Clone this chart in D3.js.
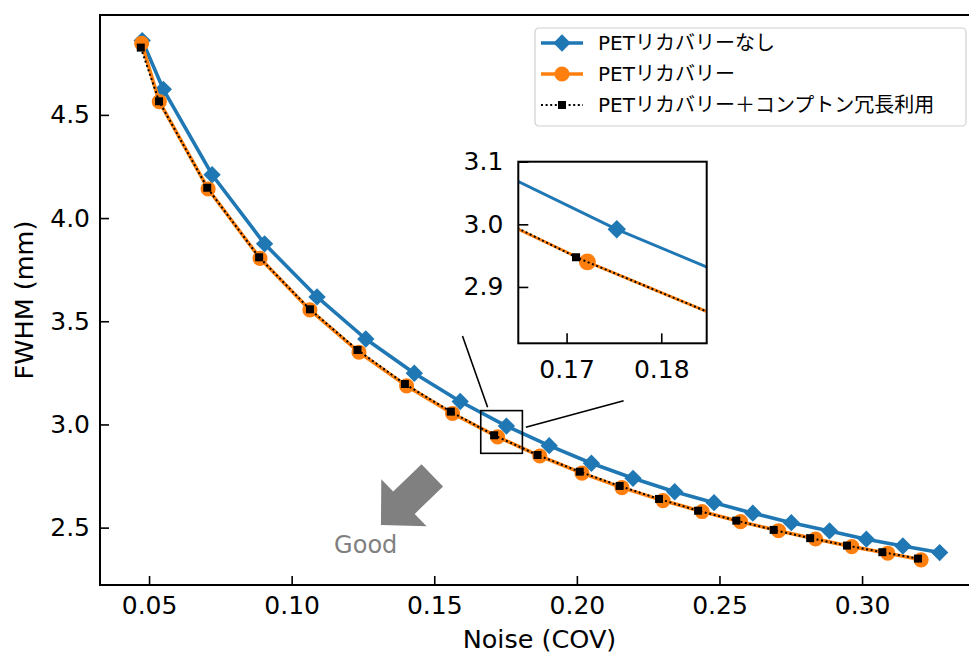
<!DOCTYPE html>
<html>
<head>
<meta charset="utf-8">
<script src="https://cdn.jsdelivr.net/npm/d3@7"></script>
<style>
  body { margin: 0; background: #fff; }
  svg { display: block; font-family: "DejaVu Sans", "Noto Sans CJK JP", sans-serif; }
  .axis path { display: none; }
  .axis line { stroke: #000; stroke-width: 1.6; }
  .axis text { font-size: 25px; fill: #000; font-family: "DejaVu Sans", sans-serif; }
  .axis-title { font-size: 25.5px; fill: #000; }
</style>
</head>
<body>
<svg id="chart" width="969" height="653"></svg>
<script>
const width = 969;
const height = 653;

const margin = { top: 15, bottom: 68, left: 100, right: -10 };

/* DATA */
const seriesNames = ["PETリカバリーなし", "PETリカバリー", "PETリカバリー＋コンプトン冗長利用"];

const noRecoveryX = [0.0476, 0.0550, 0.0721, 0.0905, 0.1089, 0.1260, 0.1430, 0.1591, 0.1753, 0.1903,
                     0.2051, 0.2197, 0.2343, 0.2481, 0.2617, 0.2752, 0.2886, 0.3015, 0.3143, 0.3272];
const noRecoveryY = [4.860, 4.624, 4.210, 3.875, 3.618, 3.414, 3.248, 3.111, 2.992, 2.897,
                     2.812, 2.739, 2.674, 2.621, 2.570, 2.524, 2.484, 2.444, 2.411, 2.379];

const recoveryX = [0.0474, 0.0536, 0.0707, 0.0889, 0.1064, 0.1236, 0.1403, 0.1564, 0.1722, 0.1870,
                   0.2018, 0.2158, 0.2302, 0.2439, 0.2574, 0.2707, 0.2837, 0.2964, 0.3090, 0.3207];
const recoveryY = [4.847, 4.564, 4.141, 3.805, 3.555, 3.350, 3.187, 3.053, 2.940, 2.847,
                   2.764, 2.694, 2.631, 2.578, 2.529, 2.485, 2.445, 2.408, 2.376, 2.344];

const comptonX = [0.0471, 0.0535, 0.0704, 0.0886, 0.1064, 0.1231, 0.1397, 0.1558, 0.1710, 0.1862,
                  0.2010, 0.2150, 0.2288, 0.2425, 0.2559, 0.2690, 0.2818, 0.2947, 0.3071, 0.3196];
const comptonY = [4.826, 4.566, 4.147, 3.810, 3.558, 3.361, 3.196, 3.062, 2.9475, 2.852,
                  2.771, 2.702, 2.639, 2.582, 2.534, 2.489, 2.449, 2.413, 2.381, 2.350];

const xTicks = [0.05, 0.10, 0.15, 0.20, 0.25, 0.30];
const yTicks = [2.5, 3.0, 3.5, 4.0, 4.5];
const insetXTicks = [0.17, 0.18];
const insetYTicks = [2.9, 3.0, 3.1];

// zoomed region [x0, x1, y0, y1] and the two pointer lines, in data units
const zoomBox = [0.1663, 0.1809, 2.860, 3.067];
const pointerLines = [
  [[0.1599, 3.429], [0.1687, 3.083]],
  [[0.1821, 2.986], [0.2164, 3.115]]
];
const goodArrow = { from: [0.1493, 2.753], to: [0.1313, 2.513], label: "Good" };

/* SERIES STYLE */
const series = [
  { name: seriesNames[0], xs: noRecoveryX, ys: noRecoveryY, color: "#1f77b4", lw: 3.6, dash: null, shape: "diamond", size: 150, insetSize: 170 },
  { name: seriesNames[1], xs: recoveryX, ys: recoveryY, color: "#ff7f0e", lw: 3.6, dash: null, shape: "circle", size: 180, insetSize: 225 },
  { name: seriesNames[2], xs: comptonX, ys: comptonY, color: "#000000", lw: 2, dash: "2,2.6", shape: "square", size: 64, insetSize: 66 }
];

/* PLOT */
const svg = d3.select("svg#chart");
const plot = svg.append("g").attr("id", "plot")
  .attr("transform", translate(margin.left, margin.top));

const plotWidth = width - margin.left - margin.right;
const plotHeight = height - margin.top - margin.bottom;

const scales = {
  x: d3.scaleLinear().domain([0.0328, 0.341]).range([0, plotWidth]),
  y: d3.scaleLinear().domain([2.222, 4.984]).range([plotHeight, 0])
};

drawAxes();
drawSeries(plot, scales, false);
drawZoomBox();
drawInset();
drawArrow();
drawLegend();
drawTitles();


/* AXES */
function drawAxes() {
  const xAxis = d3.axisBottom(scales.x).tickValues(xTicks).tickFormat(d3.format(".2f"))
    .tickSizeInner(-9).tickSizeOuter(0).tickPadding(11);
  const yAxis = d3.axisLeft(scales.y).tickValues(yTicks).tickFormat(d3.format(".1f"))
    .tickSizeInner(-9).tickSizeOuter(0).tickPadding(10);

  plot.append("g").attr("class", "axis")
    .attr("transform", translate(0, plotHeight))
    .call(xAxis);
  plot.append("g").attr("class", "axis").call(yAxis);

  plot.append("rect")
    .attr("width", plotWidth).attr("height", plotHeight)
    .attr("fill", "none").attr("stroke", "#000").attr("stroke-width", 2);
}


/* LINES + MARKERS */
function symbolPath(shape, size) {
  if (shape === "circle") return d3.symbol(d3.symbolCircle, size)();
  return d3.symbol(d3.symbolSquare, size)();
}

function drawSeries(group, sc, isInset) {
  series.forEach(s => {
    const pts = s.xs.map((x, i) => [x, s.ys[i]]);
    const line = d3.line().x(d => sc.x(d[0])).y(d => sc.y(d[1]));

    const g = group.append("g");
    g.append("path")
      .attr("d", line(pts))
      .attr("fill", "none")
      .attr("stroke", s.color)
      .attr("stroke-width", isInset && !s.dash ? s.lw * 0.8 : s.lw)
      .attr("stroke-dasharray", s.dash)
      .attr("stroke-linejoin", "round");

    g.selectAll("path.marker")
      .data(pts)
      .enter()
      .append("path")
      .attr("class", "marker")
      .attr("d", symbolPath(s.shape, isInset ? s.insetSize : s.size))
      .attr("fill", s.color)
      .attr("transform", d => translate(sc.x(d[0]), sc.y(d[1])) + (s.shape === "diamond" ? " rotate(45)" : ""));
  });
}


/* ZOOM BOX + POINTERS */
function drawZoomBox() {
  const x0 = scales.x(zoomBox[0]), x1 = scales.x(zoomBox[1]);
  const y0 = scales.y(zoomBox[3]), y1 = scales.y(zoomBox[2]);

  plot.append("rect")
    .attr("x", x0).attr("y", y0)
    .attr("width", x1 - x0).attr("height", y1 - y0)
    .attr("fill", "none").attr("stroke", "#000").attr("stroke-width", 1.6);

  plot.selectAll("line.pointer")
    .data(pointerLines)
    .enter()
    .append("line")
    .attr("class", "pointer")
    .attr("x1", d => scales.x(d[0][0])).attr("y1", d => scales.y(d[0][1]))
    .attr("x2", d => scales.x(d[1][0])).attr("y2", d => scales.y(d[1][1]))
    .attr("stroke", "#000").attr("stroke-width", 1.6);
}


/* INSET */
function drawInset() {
  const box = { left: 518.3, top: 161.7, width: 188.4, height: 181.6 };
  const inset = svg.append("g").attr("id", "inset")
    .attr("transform", translate(box.left, box.top));

  const insetScales = {
    x: d3.scaleLinear().domain([0.1649, 0.1848]).range([0, box.width]),
    y: d3.scaleLinear().domain([2.81, 3.10]).range([box.height, 0])
  };

  inset.append("rect")
    .attr("width", box.width).attr("height", box.height)
    .attr("fill", "#fff");

  svg.append("defs").append("clipPath").attr("id", "inset-clip")
    .append("rect").attr("width", box.width).attr("height", box.height);

  const inner = inset.append("g").attr("clip-path", "url(#inset-clip)");
  drawSeries(inner, insetScales, true);

  const xAxis = d3.axisBottom(insetScales.x).tickValues(insetXTicks).tickFormat(d3.format(".2f"))
    .tickSizeInner(-10).tickSizeOuter(0).tickPadding(17);
  const yAxis = d3.axisLeft(insetScales.y).tickValues(insetYTicks).tickFormat(d3.format(".1f"))
    .tickSizeInner(-10).tickSizeOuter(0).tickPadding(15);

  inset.append("g").attr("class", "axis")
    .attr("transform", translate(0, box.height))
    .call(xAxis);
  inset.append("g").attr("class", "axis").call(yAxis);

  inset.append("rect")
    .attr("width", box.width).attr("height", box.height)
    .attr("fill", "none").attr("stroke", "#000").attr("stroke-width", 2);
}


/* GOOD ARROW */
function drawArrow() {
  const tail = [scales.x(goodArrow.from[0]), scales.y(goodArrow.from[1])];
  const tip = [scales.x(goodArrow.to[0]), scales.y(goodArrow.to[1])];
  const dx = tip[0] - tail[0], dy = tip[1] - tail[1];
  const len = Math.hypot(dx, dy);
  const u = [dx / len, dy / len];
  const n = [-u[1], u[0]];
  const headLen = 32, headHalf = 32.6, shaftHalf = 15.5;
  const base = [tip[0] - u[0] * headLen, tip[1] - u[1] * headLen];
  const off = (p, k) => [p[0] + n[0] * k, p[1] + n[1] * k];

  const shape = [
    off(tail, shaftHalf), off(base, shaftHalf), off(base, headHalf), tip,
    off(base, -headHalf), off(base, -shaftHalf), off(tail, -shaftHalf)
  ];

  plot.append("path")
    .attr("d", "M" + shape.map(p => p.join(",")).join("L") + "Z")
    .attr("fill", "#808080");

  plot.append("text")
    .attr("x", 265.7).attr("y", 537.7)
    .attr("text-anchor", "middle")
    .attr("font-size", 24)
    .attr("fill", "#808080")
    .text(goodArrow.label);
}


/* LEGEND */
function drawLegend() {
  const legend = svg.append("g").attr("id", "legend").attr("transform", translate(535, 28));

  legend.append("rect")
    .attr("width", 431).attr("height", 98).attr("rx", 4)
    .attr("fill", "#fff").attr("fill-opacity", 0.8)
    .attr("stroke", "#d0d0d0").attr("stroke-width", 1.2);

  const rows = legend.selectAll("g.row")
    .data(series)
    .enter()
    .append("g")
    .attr("class", "row")
    .attr("transform", (d, i) => translate(0, 15 + i * 31));

  rows.append("line")
    .attr("x1", 6).attr("x2", 48)
    .attr("stroke", d => d.color)
    .attr("stroke-width", d => d.lw)
    .attr("stroke-dasharray", d => d.dash);

  rows.append("path")
    .attr("d", d => symbolPath(d.shape, d.size))
    .attr("fill", d => d.color)
    .attr("transform", d => translate(27, 0) + (d.shape === "diamond" ? " rotate(45)" : ""));

  rows.append("text")
    .attr("x", 63)
    .attr("dy", "0.36em")
    .attr("font-size", 20)
    .text(d => d.name);
}


/* AXIS TITLES */
function drawTitles() {
  svg.append("text")
    .attr("class", "axis-title")
    .attr("x", margin.left + midpoint(scales.x.range()))
    .attr("y", 648)
    .attr("text-anchor", "middle")
    .text("Noise (COV)");

  svg.append("text")
    .attr("class", "axis-title")
    .attr("transform", translate(33, margin.top + midpoint(scales.y.range())) + " rotate(-90)")
    .attr("text-anchor", "middle")
    .text("FWHM (mm)");
}


function midpoint(range) {
  return range[0] + (range[1] - range[0]) / 2.0;
}

function translate(x, y) {
  return "translate(" + String(x) + "," + String(y) + ")";
}
</script>
</body>
</html>
